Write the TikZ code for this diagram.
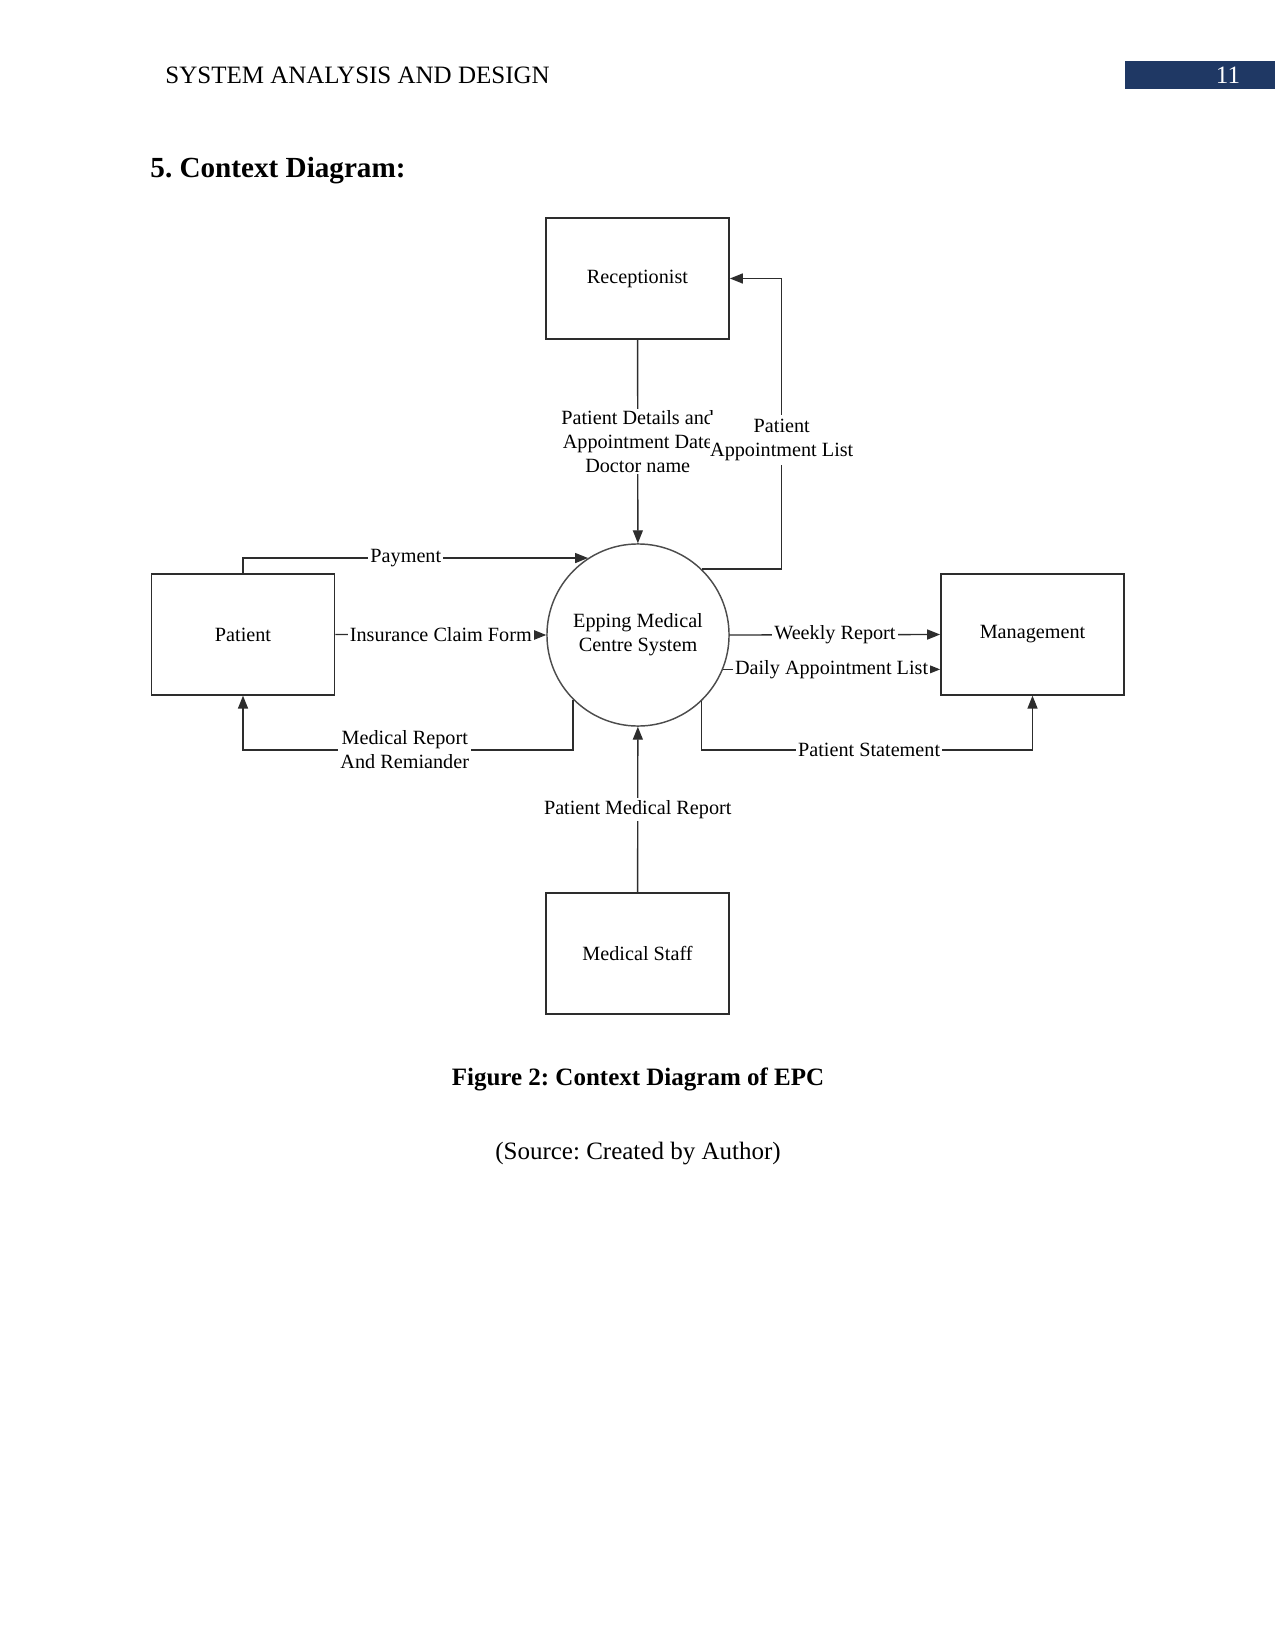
\documentclass[tikz,border=0pt]{standalone}
\usepackage{fontspec}
\setmainfont{Liberation Serif}
\usetikzlibrary{arrows.meta}
\definecolor{HeaderNavy}{RGB}{31,56,100}
\definecolor{LineGray}{RGB}{45,45,45}
\newcommand{\dfdfont}{\fontsize{9.7}{11.5}\selectfont}
\frenchspacing

\begin{document}
\begin{tikzpicture}[x=0.48pt,y=-0.48pt,>={Triangle[length=6.2pt,width=4.8pt]},
    entity/.style={draw=LineGray,line width=0.7pt,minimum width=88pt,minimum height=58pt,font=\dfdfont},
    procbubble/.style={circle,draw=LineGray!85,line width=0.7pt,minimum size=87.4pt,inner sep=0pt,align=center,font=\dfdfont},
    dataflow/.style={->,line width=0.65pt,LineGray},
    flowlbl/.style={fill=white,inner sep=1pt,align=center,font=\dfdfont,text=black},
    pagetext/.style={inner sep=0pt,font=\fontsize{12}{14}\selectfont}]
      \useasboundingbox (0,0) rectangle (1275,1650);
      % page header
      \fill[HeaderNavy] (1125,61) rectangle (1275,89);
      \node[pagetext,anchor=base west] (hdr) at (165,84) {SYSTEM ANALYSIS AND DESIGN};
      \node[pagetext,anchor=base,text=white] (pgno) at (1228,84) {11};
      \node[pagetext,anchor=base west,font=\fontsize{14}{16}\selectfont\bfseries] (sect) at (150,178) {5. Context Diagram:};
      % entities and process
      \node[procbubble] (epc) at (638,635) {Epping Medical\\Centre System};
      \node[entity] (rec) at (637.5,278.5) {Receptionist};
      \node[entity] (pat) at (243,634.5) {Patient};
      \node[entity] (mgmt) at (1032.5,634.5) {Management};
      \node[entity] (staff) at (637.5,953.5) {Medical Staff};
      % data flows
      \draw[dataflow] (rec) -- node[flowlbl,inner sep=0.5pt] (lbdetails) {Patient Details and\\Appointment Date\\Doctor name} (epc);
      \draw[dataflow] (epc.46) -- ++(80,0) |- node[flowlbl,pos=0.222,inner xsep=0pt,inner ysep=2pt] (lbaplist) {Patient\\Appointment List} (rec.east);
      \draw[dataflow] (pat.north) |- node[flowlbl,pos=0.736] (lbpay) {Payment} (epc.123);
      \draw[dataflow] (pat.east) -- node[flowlbl] (lbclaim) {Insurance Claim Form} (epc.west);
      \draw[dataflow] (epc.225) -- ++(0,50) -| node[flowlbl,pos=0.255] (lbreport) {Medical Report\\And Remiander} (pat.south);
      \draw[dataflow] (epc.east) -- node[flowlbl] (lbweekly) {Weekly Report} (mgmt.west);
      \draw[dataflow] (epc.-22) -- node[flowlbl] (lbdaily) {Daily Appointment List} (epc.-22 -| mgmt.west);
      \draw[dataflow] (epc.-46) -- ++(0,49) -| node[flowlbl,pos=0.253] (lbstmt) {Patient Statement} (mgmt.south);
      \draw[dataflow] (staff) -- node[flowlbl] (lbmedrep) {Patient Medical Report} (epc);
      % caption
      \node[pagetext,anchor=base,font=\fontsize{12}{14}\selectfont\bfseries] (cap) at (638,1085) {Figure 2: Context Diagram of EPC};
      \node[pagetext,anchor=base] (src) at (638,1159) {(Source: Created by Author)};
    \end{tikzpicture}
\end{document}
